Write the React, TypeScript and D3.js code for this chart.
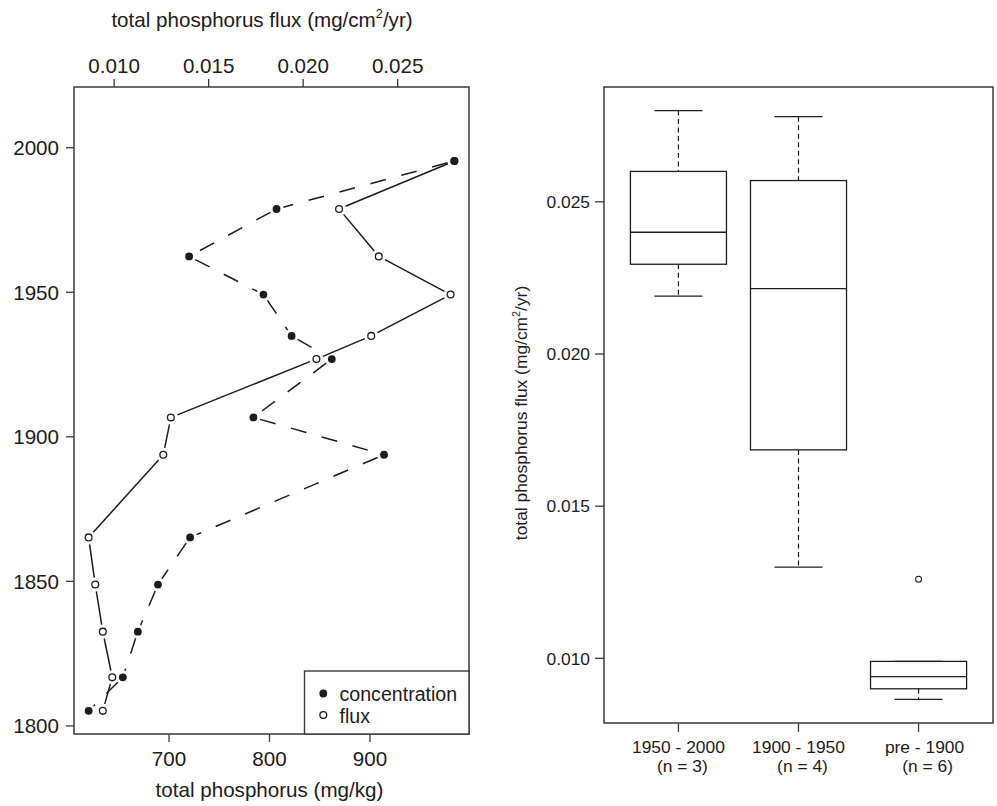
import React from "react";
import * as d3 from "d3";

// ---- data ----
const years = [1995.4, 1978.8, 1962.4, 1949.2, 1934.9, 1926.9, 1906.7, 1893.8, 1865.2, 1848.9, 1832.6, 1816.8, 1805.2];
const concentration = [984, 807, 720, 794, 822, 862, 784, 914, 721, 689, 669, 654, 620];
const flux = [0.028, 0.0219, 0.024, 0.0278, 0.0236, 0.0207, 0.013, 0.0126, 0.00865, 0.009, 0.0094, 0.0099, 0.0094];

const yearLimits = [1797.2, 2021];
const yearTicks = [1800, 1850, 1900, 1950, 2000];
const concTicks = [700, 800, 900];
const fluxTicks = [0.01, 0.015, 0.02, 0.025];

const groupNames = ["1950 - 2000", "1900 - 1950", "pre - 1900"];
const groupBounds = [[1950, 2100], [1900, 1950], [0, 1900]];

const legendLabels = ["concentration", "flux"];

const FONT = "'Liberation Sans', Arial, Helvetica, sans-serif";
const INK = "#1c1c1c";
const FRAME = "#3a3a3a";

function fivenum(values: number[]) {
  const x = [...values].sort((a, b) => a - b);
  const n = x.length;
  const n4 = Math.floor((n + 3) / 2) / 2;
  const d = [1, n4, (n + 1) / 2, n + 1 - n4, n];
  return d.map((v) => 0.5 * (x[Math.floor(v) - 1] + x[Math.ceil(v) - 1]));
}

function boxStats(values: number[]) {
  const [mn, lh, med, uh, mx] = fivenum(values);
  const iqr = uh - lh;
  const inside = values.filter((v) => v >= lh - 1.5 * iqr && v <= uh + 1.5 * iqr);
  const out = values.filter((v) => v < lh - 1.5 * iqr || v > uh + 1.5 * iqr);
  return { lo: d3.min(inside)!, lh, med, uh, hi: d3.max(inside)!, out, n: values.length, mn, mx };
}

function gapSegments(pts: [number, number][], gap: number) {
  const segs: { x1: number; y1: number; x2: number; y2: number }[] = [];
  for (let i = 0; i < pts.length - 1; i++) {
    const [ax, ay] = pts[i];
    const [bx, by] = pts[i + 1];
    const dx = bx - ax, dy = by - ay;
    const len = Math.hypot(dx, dy);
    if (len <= 2 * gap) continue;
    const ux = dx / len, uy = dy / len;
    segs.push({ x1: ax + ux * gap, y1: ay + uy * gap, x2: bx - ux * gap, y2: by - uy * gap });
  }
  return segs;
}

export default function App() {
  // ---- left panel ----
  const L = { left: 74, right: 469, top: 87, bottom: 734 };
  const cExt = d3.extent(concentration) as [number, number];
  const cR = cExt[1] - cExt[0];
  const concX = d3.scaleLinear().domain([cExt[0] - 0.04 * cR, cExt[1] + 0.04 * cR]).range([L.left, L.right]);
  const fExt = d3.extent(flux) as [number, number];
  const fluxX = d3.scaleLinear().domain(fExt).range([concX(cExt[0]), concX(cExt[1])]);
  const yearY = d3.scaleLinear().domain(yearLimits).range([L.bottom, L.top]);

  const concPts: [number, number][] = years.map((y, i) => [concX(concentration[i]), yearY(y)]);
  const fluxPts: [number, number][] = years.map((y, i) => [fluxX(flux[i]), yearY(y)]);
  const concSegs = gapSegments(concPts, 7);
  const fluxSegs = gapSegments(fluxPts, 7);

  // ---- right panel ----
  const R = { left: 604, right: 993, top: 87, bottom: 723 };
  const nG = groupNames.length;
  const catX = d3.scaleLinear().domain([0.5 - 0.04 * nG, nG + 0.5 + 0.04 * nG]).range([R.left, R.right]);
  const fR = fExt[1] - fExt[0];
  const boxY = d3.scaleLinear().domain([fExt[0] - 0.04 * fR, fExt[1] + 0.04 * fR]).range([R.bottom, R.top]);
  const groups = groupBounds.map(([a, b]) => boxStats(flux.filter((_, i) => years[i] >= a && years[i] < b)));
  const unit = catX(2) - catX(1);
  const boxW = 0.8 * unit;
  const stapleW = boxW / 2;

  const lfs = 20.6;
  const legfs = 19.6;
  const rfs = 17.4;

  return (
    <svg width={997} height={806} style={{ position: "absolute", left: 0, top: 0, background: "#fff" }} fontFamily={FONT}>
      <rect x={0} y={0} width={997} height={806} fill="#fff" />
      {/* ===== LEFT PANEL ===== */}
      {concSegs.map((s, i) => (
        <line key={"cs" + i} {...s} stroke={INK} strokeWidth={1.5} strokeDasharray="16,16" />
      ))}
      {fluxSegs.map((s, i) => (
        <line key={"fs" + i} {...s} stroke={INK} strokeWidth={1.5} />
      ))}
      {fluxPts.map(([x, y], i) => (
        <circle key={"fp" + i} cx={x} cy={y} r={3.4} fill="#fff" stroke={INK} strokeWidth={1.3} />
      ))}
      {concPts.map(([x, y], i) => (
        <circle key={"cp" + i} cx={x} cy={y} r={3.9} fill={INK} />
      ))}
      <rect x={L.left} y={L.top} width={L.right - L.left} height={L.bottom - L.top} fill="none" stroke={FRAME} strokeWidth={1.5} />
      {/* left axis */}
      {yearTicks.map((t) => (
        <g key={"yt" + t}>
          <line x1={L.left - 8} x2={L.left} y1={yearY(t)} y2={yearY(t)} stroke={FRAME} strokeWidth={1.3} />
          <text x={L.left - 15} y={yearY(t)} dy="0.36em" textAnchor="end" fontSize={lfs} fill={INK}>{t}</text>
        </g>
      ))}
      {/* bottom axis */}
      {concTicks.map((t) => (
        <g key={"ct" + t}>
          <line x1={concX(t)} x2={concX(t)} y1={L.bottom} y2={L.bottom + 8} stroke={FRAME} strokeWidth={1.3} />
          <text x={concX(t)} y={766} textAnchor="middle" fontSize={lfs} fill={INK}>{t}</text>
        </g>
      ))}
      <text x={(L.left + L.right) / 2 - 2} y={797} textAnchor="middle" fontSize={lfs} fill={INK}>total phosphorus (mg/kg)</text>
      {/* top axis */}
      {fluxTicks.map((t) => (
        <g key={"ft" + t}>
          <line x1={fluxX(t)} x2={fluxX(t)} y1={L.top} y2={L.top - 8} stroke={FRAME} strokeWidth={1.3} />
          <text x={fluxX(t)} y={73} textAnchor="middle" fontSize={lfs} fill={INK}>{d3.format(".3f")(t)}</text>
        </g>
      ))}
      <text x={262} y={27} textAnchor="middle" fontSize={lfs} fill={INK}>
        total phosphorus flux (mg/cm<tspan fontSize={lfs * 0.62} dy={-lfs * 0.42}>2</tspan>
        <tspan dy={lfs * 0.42}>/yr)</tspan>
      </text>
      {/* legend */}
      <rect x={304.5} y={671} width={L.right - 304.5} height={L.bottom - 671} fill="#fff" stroke={FRAME} strokeWidth={1.4} />
      <circle cx={323.3} cy={693.5} r={3.9} fill={INK} />
      <circle cx={323.3} cy={715} r={3.4} fill="#fff" stroke={INK} strokeWidth={1.3} />
      <text x={339.5} y={700.5} fontSize={legfs} fill={INK}>{legendLabels[0]}</text>
      <text x={339.5} y={722.5} fontSize={legfs} fill={INK}>{legendLabels[1]}</text>

      {/* ===== RIGHT PANEL ===== */}
      {groups.map((g, i) => {
        const cx = catX(i + 1);
        return (
          <g key={"bx" + i}>
            <line x1={cx} x2={cx} y1={boxY(g.hi)} y2={boxY(g.uh)} stroke={INK} strokeWidth={1.2} strokeDasharray="5,3.5" />
            <line x1={cx} x2={cx} y1={boxY(g.lh)} y2={boxY(g.lo)} stroke={INK} strokeWidth={1.2} strokeDasharray="5,3.5" />
            <line x1={cx - stapleW / 2} x2={cx + stapleW / 2} y1={boxY(g.hi)} y2={boxY(g.hi)} stroke={INK} strokeWidth={1.3} />
            <line x1={cx - stapleW / 2} x2={cx + stapleW / 2} y1={boxY(g.lo)} y2={boxY(g.lo)} stroke={INK} strokeWidth={1.3} />
            <rect x={cx - boxW / 2} y={boxY(g.uh)} width={boxW} height={boxY(g.lh) - boxY(g.uh)} fill="#fff" stroke={INK} strokeWidth={1.3} />
            <line x1={cx - boxW / 2} x2={cx + boxW / 2} y1={boxY(g.med)} y2={boxY(g.med)} stroke={INK} strokeWidth={1.4} />
            {g.out.map((o, j) => (
              <circle key={j} cx={cx} cy={boxY(o)} r={3} fill="#fff" stroke={INK} strokeWidth={1.1} />
            ))}
          </g>
        );
      })}
      <rect x={R.left} y={R.top} width={R.right - R.left} height={R.bottom - R.top} fill="none" stroke={FRAME} strokeWidth={1.5} />
      {fluxTicks.map((t) => (
        <g key={"rt" + t}>
          <line x1={R.left - 9} x2={R.left} y1={boxY(t)} y2={boxY(t)} stroke={FRAME} strokeWidth={1.3} />
          <text x={R.left - 14} y={boxY(t)} dy="0.36em" textAnchor="end" fontSize={rfs} fill={INK}>{d3.format(".3f")(t)}</text>
        </g>
      ))}
      {groupNames.map((name, i) => (
        <g key={"gn" + i}>
          <line x1={catX(i + 1)} x2={catX(i + 1)} y1={R.bottom} y2={R.bottom + 9} stroke={FRAME} strokeWidth={1.3} />
          <text x={catX(i + 1) + (i === 2 ? 6 : 0)} y={753} textAnchor="middle" fontSize={rfs} fill={INK}>{name}</text>
          <text x={catX(i + 1) + (i === 2 ? 9 : 4)} y={771.5} textAnchor="middle" fontSize={rfs} fill={INK}>(n = {groups[i].n})</text>
        </g>
      ))}
      <text transform={`translate(527,413) rotate(-90)`} textAnchor="middle" fontSize={rfs} fill={INK}>
        total phosphorus flux (mg/cm<tspan fontSize={rfs * 0.62} dy={-rfs * 0.42}>2</tspan>
        <tspan dy={rfs * 0.42}>/yr)</tspan>
      </text>
    </svg>
  );
}
